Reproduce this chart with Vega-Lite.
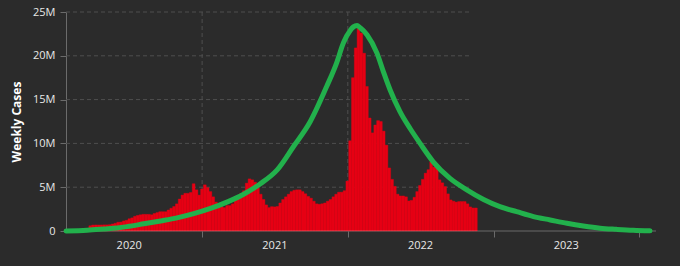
{
  "$schema": "https://vega.github.io/schema/vega-lite/v6.json",
  "width": 590,
  "height": 219,
  "autosize": {"type": "none"},
  "padding": {"left": 66, "top": 12, "right": 24, "bottom": 35},
  "background": "#2b2b2b",
  "config": {
    "view": {"stroke": null},
    "axis": {
      "labelFont": "Open Sans",
      "labelFontSize": 11,
      "labelColor": "#e8e8e8",
      "titleFont": "Open Sans",
      "titleFontSize": 12,
      "titleFontWeight": "bold",
      "titleColor": "#ffffff"
    }
  },
  "datasets": {
    "weekly": [
      {"date": "2020-03-15", "cases": 250000},
      {"date": "2020-03-22", "cases": 600000},
      {"date": "2020-03-29", "cases": 680000},
      {"date": "2020-04-05", "cases": 690000},
      {"date": "2020-04-12", "cases": 690000},
      {"date": "2020-04-19", "cases": 690000},
      {"date": "2020-04-26", "cases": 700000},
      {"date": "2020-05-03", "cases": 700000},
      {"date": "2020-05-10", "cases": 720000},
      {"date": "2020-05-17", "cases": 800000},
      {"date": "2020-05-24", "cases": 880000},
      {"date": "2020-05-31", "cases": 1000000},
      {"date": "2020-06-07", "cases": 1020000},
      {"date": "2020-06-14", "cases": 1150000},
      {"date": "2020-06-21", "cases": 1220000},
      {"date": "2020-06-28", "cases": 1400000},
      {"date": "2020-07-05", "cases": 1500000},
      {"date": "2020-07-12", "cases": 1680000},
      {"date": "2020-07-19", "cases": 1780000},
      {"date": "2020-07-26", "cases": 1850000},
      {"date": "2020-08-02", "cases": 1900000},
      {"date": "2020-08-09", "cases": 1900000},
      {"date": "2020-08-16", "cases": 1900000},
      {"date": "2020-08-23", "cases": 1850000},
      {"date": "2020-08-30", "cases": 2000000},
      {"date": "2020-09-06", "cases": 2100000},
      {"date": "2020-09-13", "cases": 2200000},
      {"date": "2020-09-20", "cases": 2200000},
      {"date": "2020-09-27", "cases": 2200000},
      {"date": "2020-10-04", "cases": 2400000},
      {"date": "2020-10-11", "cases": 2600000},
      {"date": "2020-10-18", "cases": 2800000},
      {"date": "2020-10-25", "cases": 3100000},
      {"date": "2020-11-01", "cases": 3650000},
      {"date": "2020-11-08", "cases": 4100000},
      {"date": "2020-11-15", "cases": 4300000},
      {"date": "2020-11-22", "cases": 4300000},
      {"date": "2020-11-29", "cases": 4400000},
      {"date": "2020-12-06", "cases": 5400000},
      {"date": "2020-12-13", "cases": 4700000},
      {"date": "2020-12-20", "cases": 4100000},
      {"date": "2020-12-27", "cases": 4800000},
      {"date": "2021-01-03", "cases": 5270000},
      {"date": "2021-01-10", "cases": 4960000},
      {"date": "2021-01-17", "cases": 4500000},
      {"date": "2021-01-24", "cases": 3900000},
      {"date": "2021-01-31", "cases": 3300000},
      {"date": "2021-02-07", "cases": 3000000},
      {"date": "2021-02-14", "cases": 2800000},
      {"date": "2021-02-21", "cases": 2670000},
      {"date": "2021-02-28", "cases": 2900000},
      {"date": "2021-03-07", "cases": 2900000},
      {"date": "2021-03-14", "cases": 3100000},
      {"date": "2021-03-21", "cases": 3600000},
      {"date": "2021-03-28", "cases": 3900000},
      {"date": "2021-04-04", "cases": 4300000},
      {"date": "2021-04-11", "cases": 4600000},
      {"date": "2021-04-18", "cases": 5460000},
      {"date": "2021-04-25", "cases": 5950000},
      {"date": "2021-05-02", "cases": 5840000},
      {"date": "2021-05-09", "cases": 5570000},
      {"date": "2021-05-16", "cases": 4960000},
      {"date": "2021-05-23", "cases": 4200000},
      {"date": "2021-05-30", "cases": 3600000},
      {"date": "2021-06-06", "cases": 2980000},
      {"date": "2021-06-13", "cases": 2670000},
      {"date": "2021-06-20", "cases": 2780000},
      {"date": "2021-06-27", "cases": 2750000},
      {"date": "2021-07-04", "cases": 2800000},
      {"date": "2021-07-11", "cases": 3200000},
      {"date": "2021-07-18", "cases": 3600000},
      {"date": "2021-07-25", "cases": 3900000},
      {"date": "2021-08-01", "cases": 4200000},
      {"date": "2021-08-08", "cases": 4500000},
      {"date": "2021-08-15", "cases": 4650000},
      {"date": "2021-08-22", "cases": 4700000},
      {"date": "2021-08-29", "cases": 4700000},
      {"date": "2021-09-05", "cases": 4500000},
      {"date": "2021-09-12", "cases": 4250000},
      {"date": "2021-09-19", "cases": 3950000},
      {"date": "2021-09-26", "cases": 3750000},
      {"date": "2021-10-03", "cases": 3400000},
      {"date": "2021-10-10", "cases": 3100000},
      {"date": "2021-10-17", "cases": 3050000},
      {"date": "2021-10-24", "cases": 3100000},
      {"date": "2021-10-31", "cases": 3200000},
      {"date": "2021-11-07", "cases": 3400000},
      {"date": "2021-11-14", "cases": 3600000},
      {"date": "2021-11-21", "cases": 3900000},
      {"date": "2021-11-28", "cases": 4200000},
      {"date": "2021-12-05", "cases": 4430000},
      {"date": "2021-12-12", "cases": 4430000},
      {"date": "2021-12-19", "cases": 4600000},
      {"date": "2021-12-26", "cases": 5700000},
      {"date": "2022-01-02", "cases": 10300000},
      {"date": "2022-01-09", "cases": 17500000},
      {"date": "2022-01-16", "cases": 20900000},
      {"date": "2022-01-23", "cases": 23100000},
      {"date": "2022-01-30", "cases": 22600000},
      {"date": "2022-02-06", "cases": 20300000},
      {"date": "2022-02-13", "cases": 16500000},
      {"date": "2022-02-20", "cases": 12900000},
      {"date": "2022-02-27", "cases": 11200000},
      {"date": "2022-03-06", "cases": 12100000},
      {"date": "2022-03-13", "cases": 12600000},
      {"date": "2022-03-20", "cases": 12500000},
      {"date": "2022-03-27", "cases": 11400000},
      {"date": "2022-04-03", "cases": 9800000},
      {"date": "2022-04-10", "cases": 7200000},
      {"date": "2022-04-17", "cases": 5900000},
      {"date": "2022-04-24", "cases": 5100000},
      {"date": "2022-05-01", "cases": 4200000},
      {"date": "2022-05-08", "cases": 4000000},
      {"date": "2022-05-15", "cases": 4000000},
      {"date": "2022-05-22", "cases": 3900000},
      {"date": "2022-05-29", "cases": 3430000},
      {"date": "2022-06-05", "cases": 3500000},
      {"date": "2022-06-12", "cases": 3850000},
      {"date": "2022-06-19", "cases": 4500000},
      {"date": "2022-06-26", "cases": 5200000},
      {"date": "2022-07-03", "cases": 5900000},
      {"date": "2022-07-10", "cases": 6600000},
      {"date": "2022-07-17", "cases": 7000000},
      {"date": "2022-07-24", "cases": 7900000},
      {"date": "2022-07-31", "cases": 7300000},
      {"date": "2022-08-07", "cases": 7300000},
      {"date": "2022-08-14", "cases": 5840000},
      {"date": "2022-08-21", "cases": 5500000},
      {"date": "2022-08-28", "cases": 5070000},
      {"date": "2022-09-04", "cases": 4240000},
      {"date": "2022-09-11", "cases": 3550000},
      {"date": "2022-09-18", "cases": 3400000},
      {"date": "2022-09-25", "cases": 3300000},
      {"date": "2022-10-02", "cases": 3360000},
      {"date": "2022-10-09", "cases": 3360000},
      {"date": "2022-10-16", "cases": 3360000},
      {"date": "2022-10-23", "cases": 3100000},
      {"date": "2022-10-30", "cases": 2750000},
      {"date": "2022-11-06", "cases": 2630000},
      {"date": "2022-11-13", "cases": 2630000}
    ],
    "fit": [
      {"date": "2020-01-26", "cases": 0},
      {"date": "2020-03-19", "cases": 90000},
      {"date": "2020-04-30", "cases": 230000},
      {"date": "2020-06-02", "cases": 350000},
      {"date": "2020-06-27", "cases": 500000},
      {"date": "2020-08-08", "cases": 820000},
      {"date": "2020-09-19", "cases": 1150000},
      {"date": "2020-10-30", "cases": 1500000},
      {"date": "2020-12-11", "cases": 1980000},
      {"date": "2021-01-22", "cases": 2580000},
      {"date": "2021-03-04", "cases": 3300000},
      {"date": "2021-04-15", "cases": 4200000},
      {"date": "2021-05-27", "cases": 5400000},
      {"date": "2021-07-08", "cases": 6980000},
      {"date": "2021-08-18", "cases": 9650000},
      {"date": "2021-09-29", "cases": 12500000},
      {"date": "2021-11-09", "cases": 16500000},
      {"date": "2021-12-04", "cases": 19200000},
      {"date": "2021-12-21", "cases": 21500000},
      {"date": "2022-01-07", "cases": 22900000},
      {"date": "2022-01-15", "cases": 23300000},
      {"date": "2022-01-24", "cases": 23450000},
      {"date": "2022-02-01", "cases": 23200000},
      {"date": "2022-02-18", "cases": 22400000},
      {"date": "2022-03-15", "cases": 20300000},
      {"date": "2022-03-31", "cases": 18200000},
      {"date": "2022-04-17", "cases": 16100000},
      {"date": "2022-05-12", "cases": 13600000},
      {"date": "2022-06-06", "cases": 11700000},
      {"date": "2022-07-01", "cases": 10000000},
      {"date": "2022-08-03", "cases": 7900000},
      {"date": "2022-09-14", "cases": 6000000},
      {"date": "2022-10-26", "cases": 4700000},
      {"date": "2022-12-07", "cases": 3600000},
      {"date": "2023-01-17", "cases": 2780000},
      {"date": "2023-02-28", "cases": 2200000},
      {"date": "2023-04-11", "cases": 1640000},
      {"date": "2023-05-23", "cases": 1260000},
      {"date": "2023-07-04", "cases": 880000},
      {"date": "2023-08-14", "cases": 570000},
      {"date": "2023-09-25", "cases": 320000},
      {"date": "2023-11-05", "cases": 190000},
      {"date": "2023-12-17", "cases": 80000},
      {"date": "2024-01-28", "cases": 20000}
    ]
  },
  "resolve": {"scale": {"x": "shared", "y": "shared"}, "axis": {"x": "independent"}},
  "layer": [
    {
      "data": {"values": [{"cases": 5000000}, {"cases": 10000000}, {"cases": 15000000}, {"cases": 20000000}, {"cases": 25000000}]},
      "mark": {"type": "rule", "color": "#4f4f4f", "strokeDash": [4, 3], "strokeWidth": 1},
      "encoding": {
        "y": {"field": "cases", "type": "quantitative", "title": "Weekly Cases"},
        "x": {"datum": {"year": 2020, "month": 1, "date": 26, "utc": true}, "type": "temporal", "axis": null, "scale": {"type": "utc"}},
        "x2": {"datum": {"year": 2022, "month": 11, "date": 6, "utc": true}}
      }
    },
    {
      "data": {"values": [{"date": "2021-01-01"}, {"date": "2022-01-01"}]},
      "mark": {"type": "rule", "color": "#4f4f4f", "strokeDash": [4, 3], "strokeWidth": 1},
      "encoding": {
        "x": {"field": "date", "type": "temporal", "axis": null, "scale": {"type": "utc"}}
      }
    },
    {
      "data": {"name": "weekly"},
      "mark": {"type": "bar", "color": "#e60014", "binSpacing": 0, "stroke": "#e60014", "strokeWidth": 0.4},
      "encoding": {
        "x": {
          "field": "date", "type": "temporal", "timeUnit": "utcyearweek",
          "scale": {"type": "utc", "domain": [{"year": 2020, "month": 1, "date": 26, "utc": true}, {"year": 2024, "month": 2, "date": 12, "utc": true}]},
          "axis": {
            "orient": "bottom", "title": null, "labels": false, "ticks": true, "tickSize": 6, "tickColor": "#6b6b6b",
            "domain": false, "grid": false,
            "values": [
              {"year": 2021, "month": 1, "date": 1, "utc": true},
              {"year": 2022, "month": 1, "date": 1, "utc": true},
              {"year": 2023, "month": 1, "date": 1, "utc": true},
              {"year": 2024, "month": 1, "date": 1, "utc": true}
            ]
          }
        },
        "y": {
          "field": "cases", "type": "quantitative",
          "scale": {"domain": [0, 25000000], "nice": false},
          "axis": {
            "title": "Weekly Cases", "titlePadding": 9,
            "values": [0, 5000000, 10000000, 15000000, 20000000, 25000000],
            "labelExpr": "format(datum.value, '~s')", "grid": false, "domain": true, "domainColor": "#6b6b6b",
            "tickColor": "#6b6b6b", "tickSize": 6, "labelPadding": 5
          }
        }
      }
    },
    {
      "data": {"values": [{}]},
      "mark": {"type": "rule", "color": "#ffffff", "opacity": 0.3, "strokeWidth": 1},
      "encoding": {"y": {"datum": 0, "type": "quantitative"}}
    },
    {
      "data": {"name": "fit"},
      "mark": {"type": "line", "color": "#22b14c", "strokeWidth": 5, "strokeCap": "round", "interpolate": "monotone"},
      "encoding": {
        "x": {
          "field": "date", "type": "temporal", "scale": {"type": "utc"},
          "axis": {
            "orient": "bottom", "title": null, "ticks": false, "tickSize": 0, "domain": false, "grid": false,
            "format": "%Y", "labelPadding": 8, "labelOverlap": false, "labelFlush": false,
            "values": [
              {"year": 2020, "month": 7, "date": 1, "utc": true},
              {"year": 2021, "month": 7, "date": 1, "utc": true},
              {"year": 2022, "month": 7, "date": 1, "utc": true},
              {"year": 2023, "month": 7, "date": 1, "utc": true}
            ]
          }
        },
        "y": {"field": "cases", "type": "quantitative", "title": "Weekly Cases"}
      }
    }
  ]
}
